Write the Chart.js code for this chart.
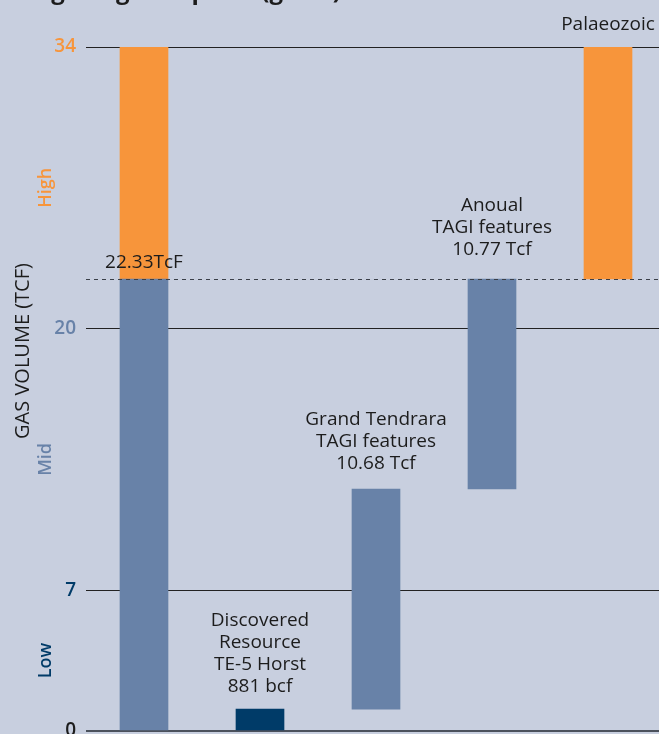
<!DOCTYPE html>
<html>
<head>
<meta charset="utf-8">
<script src="https://cdn.jsdelivr.net/npm/chart.js@4.4.1/dist/chart.umd.min.js"></script>
<style>
  html, body { margin: 0; padding: 0; overflow: hidden; background: #c8cfdf; }
  #wrap { width: 659px; height: 734px; overflow: hidden; position: relative; }
  #box { position: absolute; left: 0; top: 0; width: 670px; height: 760px; }
</style>
</head>
<body>
<div id="wrap"><div id="box"><canvas id="chart"></canvas></div></div>
<script>
// data (Tcf)
const categories = ['Total', 'Discovered', 'Grand Tendrara', 'Anoual', 'Palaeozoic'];
const tickValues = [0, 7, 20, 34];
const bandNames = ['Low', 'Mid', 'High'];
const lowBars = [null, [0, 1.09], null, null, null];
const midBars = [[0, 22.47], null, [1.09, 12.03], [12.03, 22.47], null];
const highBars = [[22.47, 34], null, null, null, [22.47, 34]];
const midLine = 22.47;
const labelAnchors = [22.47, 1.09, 12.03, 22.47, 34];
const barLabels = [
    ['22.33TcF'],
    ['Discovered', 'Resource', 'TE-5 Horst', '881 bcf'],
    ['Grand Tendrara', 'TAGI features', '10.68 Tcf'],
    ['Anoual', 'TAGI features', '10.77 Tcf'],
    ['Palaeozoic']
];

const ORANGE = '#f7953b';
const BLUE = '#6882a8';
const NAVY = '#003b68';
const bandColors = [NAVY, BLUE, ORANGE];
const FONT = '"Open Sans", sans-serif';

// gap (px) between the anchor and the middle of the last text line
const labelGaps = [16, 22, 25, 29, 22];

const extras = {
    id: 'extras',
    afterDatasetsDraw(chart) {
        const { ctx, chartArea, scales: { x, y } } = chart;
        ctx.save();

        // dashed line at the mid case
        const yl = Math.round(y.getPixelForValue(midLine)) + 0.5;
        ctx.strokeStyle = '#3a3f48';
        ctx.lineWidth = 1;
        ctx.setLineDash([4, 4]);
        ctx.beginPath();
        ctx.moveTo(chartArea.left, yl);
        ctx.lineTo(chartArea.right, yl);
        ctx.stroke();
        ctx.setLineDash([]);

        // bar annotations
        ctx.fillStyle = '#1c1c1c';
        ctx.font = '19px ' + FONT;
        ctx.textAlign = 'center';
        ctx.textBaseline = 'middle';
        barLabels.forEach((lines, i) => {
            const cx = x.getPixelForValue(i);
            const bottom = y.getPixelForValue(labelAnchors[i]) - labelGaps[i];
            lines.forEach((t, j) => {
                ctx.fillText(t, cx, bottom - (lines.length - 1 - j) * 22.3);
            });
        });

        // band names between ticks
        ctx.font = '600 18px ' + FONT;
        bandNames.forEach((name, i) => {
            const mid = (tickValues[i] + tickValues[i + 1]) / 2;
            ctx.save();
            ctx.translate(chartArea.left - 40, y.getPixelForValue(mid));
            ctx.rotate(-Math.PI / 2);
            ctx.fillStyle = bandColors[i];
            ctx.fillText(name, 0, 0);
            ctx.restore();
        });

        // axis title
        ctx.save();
        ctx.translate(23, 351);
        ctx.rotate(-Math.PI / 2);
        ctx.fillStyle = '#1c1c1c';
        ctx.font = '20px ' + FONT;
        ctx.fillText('GAS VOLUME (TCF)', 0, 0);
        ctx.restore();

        // heading, cut off by the top edge
        ctx.font = '700 24px ' + FONT;
        ctx.textAlign = 'left';
        ctx.textBaseline = 'alphabetic';
        ctx.fillStyle = '#1c1c1c';
        ctx.fillText('Original gas in place (gross)', 14, -1);

        ctx.restore();
    }
};

const ctx = document.getElementById('chart').getContext('2d');
new Chart(ctx, {
    type: 'bar',
    data: {
        labels: categories,
        datasets: [
            { label: 'Low', data: lowBars, backgroundColor: NAVY },
            { label: 'Mid', data: midBars, backgroundColor: BLUE },
            { label: 'High', data: highBars, backgroundColor: ORANGE }
        ]
    },
    options: {
        responsive: true,
        maintainAspectRatio: false,
        animation: false,
        layout: { padding: { top: 47, bottom: 29, left: 0, right: 4 } },
        datasets: { bar: { grouped: false, barThickness: 48, borderWidth: 0 } },
        plugins: { legend: { display: false }, tooltip: { enabled: false } },
        scales: {
            x: { display: false },
            y: {
                min: 0,
                max: 34,
                afterBuildTicks: s => { s.ticks = tickValues.map(v => ({ value: v })); },
                afterFit: s => { s.width = 86; },
                border: { display: false },
                grid: {
                    drawTicks: false,
                    color: c => c.tick && c.tick.value === 0 ? '#4b515c' : '#222',
                    lineWidth: c => c.tick && c.tick.value === 0 ? 2 : 1
                },
                ticks: {
                    padding: 10,
                    font: { family: FONT, size: 19, weight: '600' },
                    color: c => ({ 0: '#1c1c1c', 7: NAVY, 20: BLUE, 34: ORANGE })[c.tick.value]
                }
            }
        }
    },
    plugins: [extras]
});
</script>
</body>
</html>
